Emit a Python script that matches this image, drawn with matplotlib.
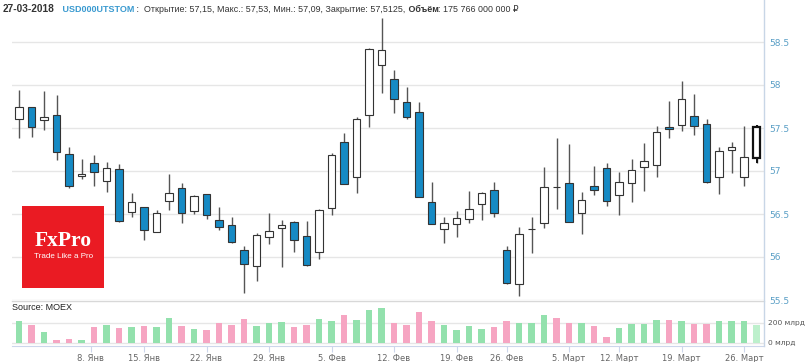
import numpy as np
import pandas as pd
import matplotlib
matplotlib.use('Agg')
from matplotlib import pyplot as plt
from matplotlib.patches import Rectangle
from matplotlib.lines import Line2D

# trading days of USD000UTSTOM (ordinal axis, no weekends / holidays)
dates = pd.to_datetime([
    '2017-12-27', '2017-12-28', '2017-12-29',
    '2018-01-03', '2018-01-04', '2018-01-05', '2018-01-09', '2018-01-10', '2018-01-11', '2018-01-12',
    '2018-01-15', '2018-01-16', '2018-01-17', '2018-01-18', '2018-01-19',
    '2018-01-22', '2018-01-23', '2018-01-24', '2018-01-25', '2018-01-26',
    '2018-01-29', '2018-01-30', '2018-01-31', '2018-02-01', '2018-02-02',
    '2018-02-05', '2018-02-06', '2018-02-07', '2018-02-08', '2018-02-09',
    '2018-02-12', '2018-02-13', '2018-02-14', '2018-02-15', '2018-02-16',
    '2018-02-19', '2018-02-20', '2018-02-21', '2018-02-22',
    '2018-02-26', '2018-02-27', '2018-02-28', '2018-03-01', '2018-03-02',
    '2018-03-05', '2018-03-06', '2018-03-07', '2018-03-09',
    '2018-03-12', '2018-03-13', '2018-03-14', '2018-03-15', '2018-03-16',
    '2018-03-19', '2018-03-20', '2018-03-21', '2018-03-22', '2018-03-23',
    '2018-03-26', '2018-03-27'])

opens = [57.60, 57.74, 57.59, 57.65, 57.20, 56.945, 57.09, 56.88, 57.02, 56.52,
         56.58, 56.29, 56.65, 56.80, 56.54, 56.73, 56.43, 56.37, 56.08, 55.90,
         56.236, 56.34, 56.41, 56.244, 56.055, 56.566, 57.34, 56.927, 57.651, 58.233,
         58.07, 57.806, 57.683, 56.643, 56.326, 56.384, 56.438, 56.613, 56.779, 56.081,
         55.683, 56.325, 56.392, 56.815, 56.857, 56.508, 56.829, 57.038, 56.721, 56.857,
         57.05, 57.07, 57.515, 57.535, 57.643, 57.543, 56.927, 57.244, 56.934, 57.15]
highs = [57.94, 57.75, 57.93, 57.88, 57.28, 57.14, 57.19, 57.10, 57.08, 56.74,
         56.585, 56.55, 56.96, 56.86, 56.72, 56.735, 56.585, 56.46, 56.13, 56.28,
         56.515, 56.43, 56.42, 56.42, 56.555, 57.206, 57.438, 57.624, 58.427, 58.776,
         58.174, 57.973, 57.799, 56.869, 56.469, 56.538, 56.767, 56.76, 56.869, 56.131,
         56.345, 56.462, 57.05, 57.387, 57.31, 56.752, 57.058, 57.09, 56.992, 57.136,
         57.322, 57.523, 57.814, 58.047, 57.895, 57.605, 57.276, 57.334, 57.523, 57.53]
lows = [57.38, 57.39, 57.48, 57.13, 56.80, 56.91, 56.82, 56.76, 56.41, 56.46,
        56.20, 56.29, 56.55, 56.40, 56.50, 56.44, 56.31, 56.16, 55.58, 55.72,
        56.148, 55.88, 56.06, 55.90, 55.973, 56.488, 56.849, 56.748, 57.515, 57.911,
        57.671, 57.61, 56.70, 56.38, 56.166, 56.236, 56.399, 56.43, 56.469, 55.69,
        55.547, 56.043, 56.334, 56.555, 56.41, 56.264, 56.721, 56.593, 56.488, 56.636,
        56.767, 56.927, 57.38, 57.465, 57.419, 56.857, 56.733, 56.98, 56.826, 57.09]
closes = [57.74, 57.51, 57.63, 57.22, 56.83, 56.97, 56.985, 57.03, 56.42, 56.64,
          56.31, 56.515, 56.74, 56.515, 56.71, 56.49, 56.345, 56.17, 55.915, 56.26,
          56.306, 56.37, 56.20, 55.907, 56.547, 57.186, 56.85, 57.605, 58.419, 58.407,
          57.834, 57.624, 56.701, 56.384, 56.392, 56.457, 56.558, 56.748, 56.508, 55.694,
          56.264, 56.33, 56.817, 56.81, 56.41, 56.663, 56.779, 56.651, 56.869, 57.012,
          57.116, 57.45, 57.485, 57.837, 57.527, 56.869, 57.236, 57.283, 57.159, 57.5125]
# volume, млрд руб
volumes = [213, 180, 110, 30, 37, 30, 153, 173, 143, 160,
           167, 160, 247, 167, 137, 130, 197, 173, 233, 167,
           197, 203, 153, 173, 240, 220, 280, 230, 330, 343,
           200, 180, 303, 213, 180, 130, 167, 137, 153, 220,
           200, 197, 280, 247, 200, 193, 163, 53, 143, 183,
           183, 230, 227, 220, 187, 187, 213, 213, 213, 175.766]

price_ticks = [55.5, 56, 56.5, 57, 57.5, 58, 58.5]
volume_ticks = [0, 200]
tick_dates = pd.to_datetime(['2018-01-08', '2018-01-15', '2018-01-22', '2018-01-29',
                             '2018-02-05', '2018-02-12', '2018-02-19', '2018-02-26',
                             '2018-03-05', '2018-03-12', '2018-03-19', '2018-03-26'])
month_names = {1: 'Янв', 2: 'Фев', 3: 'Март'}

# header pieces: text, weight, colour, size
header = [('27-03-2018', 'bold', '#333333', 7.3),
          ('   USD000UTSTOM', 'bold', '#3a9ad0', 6.5),
          (' :  Открытие: 57,15, Макс.: 57,53, Мин.: 57,09, Закрытие: 57,5125,', 'normal', '#333333', 6.4),
          (' Объём', 'bold', '#333333', 6.4),
          (': 175 766 000 000 ₽', 'normal', '#333333', 6.4)]

W, H = 807, 362
fig = plt.figure(figsize=(W / 100, H / 100), dpi=100)
fig.patch.set_facecolor('white')

x = np.arange(len(dates))
o = np.array(opens); c = np.array(closes)
up = c >= o

# ordinal axis -> ticks falling on non-trading days get an interpolated position
tick_pos = np.interp(tick_dates.map(pd.Timestamp.toordinal), dates.map(pd.Timestamp.toordinal), x)
tick_labels = ['%d. %s' % (d.day, month_names[d.month]) for d in tick_dates]

xlim = (-0.56, 59.6)
grid_c = '#e6e6e6'

# ---- price panel
ax = fig.add_axes([12 / W, 1 - 300 / H, 752 / W, 285 / H])
ax.set_xlim(*xlim)
ax.set_ylim(55.5, 55.5 + 285 / 86)
for v in price_ticks:
    ax.axhline(v, color=grid_c, lw=1, zorder=0)

ax.vlines(x, lows, highs, color='#555555', lw=1, zorder=2)
body_h = np.maximum(np.abs(c - o), 0.004)
body_b = np.minimum(o, c)
face = np.where(up, 'white', '#168ac4')
ax.bar(x[:-1], body_h[:-1], bottom=body_b[:-1], width=0.6, color=face[:-1],
       edgecolor='#333333', linewidth=0.8, zorder=3)
# hovered last candle
ax.vlines(x[-1], lows[-1], highs[-1], color='#111111', lw=1.4, zorder=2)
ax.bar(x[-1], body_h[-1], bottom=body_b[-1], width=0.6, color='white',
       edgecolor='#111111', linewidth=1.6, zorder=3)

for s in ax.spines.values():
    s.set_visible(False)
ax.set_xticks([])
ax.yaxis.tick_right()
ax.set_yticks(price_ticks)
ax.set_yticklabels(['%g' % v for v in price_ticks])
ax.tick_params(axis='y', length=0, pad=4, labelsize=6.5, labelcolor='#5a9fc6')
ax.set_facecolor('none')

# ---- volume panel
axv = fig.add_axes([12 / W, 1 - 346 / H, 752 / W, 45 / H])
axv.set_xlim(*xlim)
axv.set_ylim(-33, 417)
for v in volume_ticks:
    axv.axhline(v, color=grid_c, lw=1, zorder=0)
vcol = np.where(up, '#93e1ad', '#f6a5c2')
vcol[-1] = '#bdf0cc'
axv.bar(x, volumes, width=0.55, color=vcol, zorder=2)
for s in ['left', 'right', 'top']:
    axv.spines[s].set_visible(False)
axv.spines['bottom'].set_color('#ccd6eb')
axv.set_xticks(tick_pos)
axv.set_xticklabels(tick_labels)
axv.tick_params(axis='x', length=4, color='#ccd6eb', labelsize=6, labelcolor='#666666', pad=1.5)
axv.yaxis.tick_right()
axv.set_yticks(volume_ticks)
axv.set_yticklabels(['%d млрд' % v for v in volume_ticks])
axv.tick_params(axis='y', length=0, pad=3, labelsize=5.4, labelcolor='#555555')
axv.set_facecolor('none')

# separator between panels and right axis line
fig.add_artist(Line2D([12 / W, 764 / W], [1 - 301 / H] * 2, color='#d8d8d8', lw=1))
fig.add_artist(Line2D([764 / W] * 2, [1 - 346 / H, 1.0], color='#c8d6e6', lw=1))

fig.text(12 / W, 1 - 307 / H, 'Source: MOEX', fontsize=6.5, color='#222222', va='center',
         family=['Liberation Sans', 'DejaVu Sans'])

# FxPro logo
fig.add_artist(Rectangle((22 / W, 1 - 288 / H), 82 / W, 82 / H, transform=fig.transFigure,
                         facecolor='#ea1b23', edgecolor='none', zorder=5))
fig.text(63.5 / W, 1 - 241 / H, 'FxPro', fontsize=15.5, fontweight='bold', color='white',
         ha='center', va='center', family='Liberation Serif', zorder=6)
fig.text(63.5 / W, 1 - 257 / H, 'Trade Like a Pro', fontsize=5.8, color='white', ha='center',
         va='center', family=['Liberation Sans', 'DejaVu Sans'], zorder=6)

# header line, drawn piece by piece
renderer = fig.canvas.get_renderer()
xpos = 3
for txt, weight, col, size in header:
    t = fig.text(xpos / W, 1 - 9 / H, txt, fontsize=size, fontweight=weight, color=col,
                 va='center', family=['Liberation Sans', 'DejaVu Sans'])
    xpos += t.get_window_extent(renderer).width

fig.savefig('out.png', dpi=100)
